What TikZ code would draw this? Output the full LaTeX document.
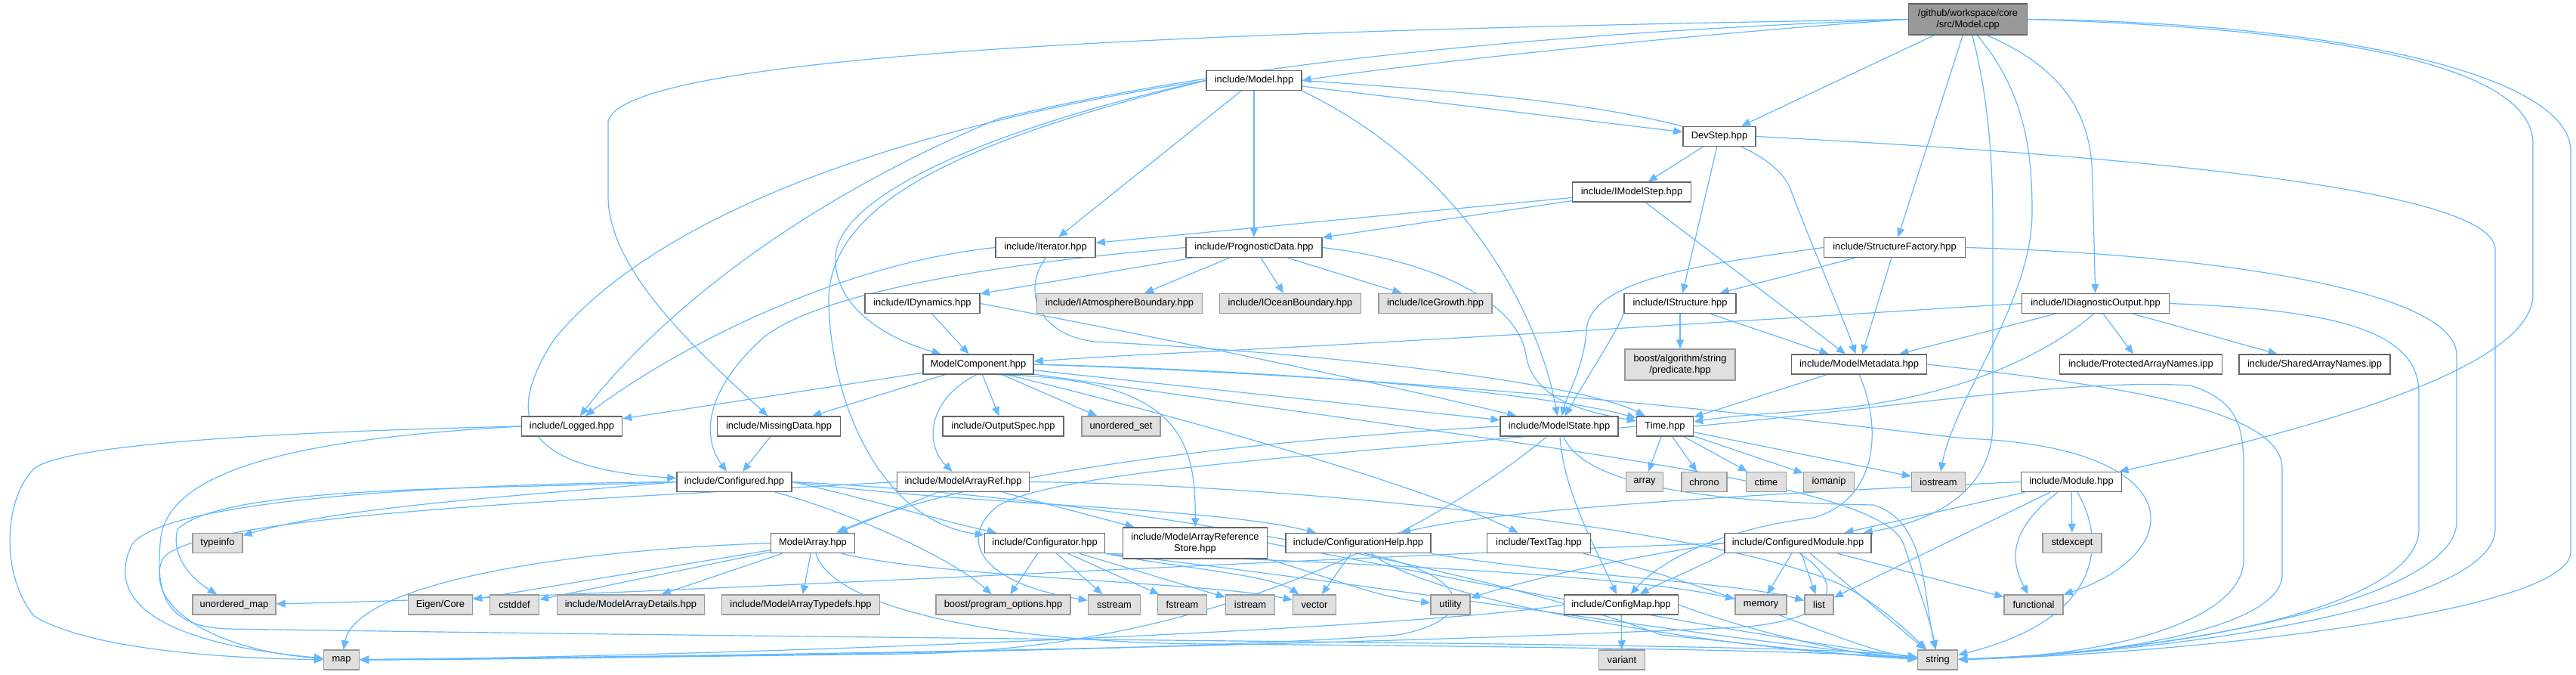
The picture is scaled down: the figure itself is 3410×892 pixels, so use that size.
\documentclass[tikz,border=0pt]{standalone}
\usepackage{fontspec}
\setmainfont{Liberation Sans}
\usetikzlibrary{arrows.meta, backgrounds}

\definecolor{edgeblue}{HTML}{63B8FF}
\definecolor{incline}{HTML}{666666}
\definecolor{extline}{HTML}{999999}
\definecolor{extfill}{HTML}{E0E0E0}
\definecolor{rootfill}{HTML}{999999}

\begin{document}
\begin{tikzpicture}[
    x=1pt, y=1pt,
    font=\fontsize{12.85}{14.5}\selectfont,
    inc/.style={rectangle, draw=incline, fill=white, line width=1.5pt, minimum height=26pt, inner sep=0pt, align=center},
    ext/.style={inc, draw=extline, fill=extfill},
    rootfile/.style={inc, fill=rootfill, minimum height=41pt},
    dep/.style={draw=edgeblue, line width=1.2pt, -{Triangle[length=12pt, width=10pt]}}
]
    \useasboundingbox (0,0) rectangle (3410,-892);

    % =========================================================
    % FILES
    % =========================================================
    \node[rootfile, minimum width=157pt] (root) at (2605,-25.5) {/github/workspace/core\\/src/Model.cpp};

    \node[inc, minimum width=126pt] (model) at (1660,-106.5) {include/Model.hpp};
    \node[inc, minimum width=96pt] (devstep) at (2276,-180.5) {DevStep.hpp};
    \node[inc, minimum width=157pt] (imstep) at (2160,-254) {include/IModelStep.hpp};

    \node[inc, minimum width=132pt] (iter) at (1384,-327.5) {include/Iterator.hpp};
    \node[inc, minimum width=180pt] (progdata) at (1660,-327.5) {include/PrognosticData.hpp};
    \node[inc, minimum width=187pt] (sfac) at (2508,-327.5) {include/StructureFactory.hpp};

    \node[inc, minimum width=152pt] (idyn) at (1221,-401.5) {include/IDynamics.hpp};
    \node[ext, minimum width=219pt] (iab) at (1482,-401.5) {include/IAtmosphereBoundary.hpp};
    \node[ext, minimum width=187pt] (iob) at (1708,-401.5) {include/IOceanBoundary.hpp};
    \node[ext, minimum width=150pt] (igrowth) at (1900,-401.5) {include/IceGrowth.hpp};
    \node[inc, minimum width=148pt] (istruct) at (2224,-401.5) {include/IStructure.hpp};
    \node[inc, minimum width=195pt] (ido) at (2774,-401.5) {include/IDiagnosticOutput.hpp};

    \node[inc, minimum width=146pt] (mcomp) at (1295,-482) {ModelComponent.hpp};
    \node[ext, minimum width=146pt, minimum height=41pt] (pred) at (2224,-482.5) {boost/algorithm/string\\/predicate.hpp};
    \node[inc, minimum width=179pt] (mmeta) at (2461,-482) {include/ModelMetadata.hpp};
    \node[inc, minimum width=215pt] (pan) at (2834,-482) {include/ProtectedArrayNames.ipp};
    \node[inc, minimum width=200pt] (san) at (3064,-482) {include/SharedArrayNames.ipp};

    \node[inc, minimum width=133pt] (logged) at (757,-564) {include/Logged.hpp};
    \node[inc, minimum width=163pt] (missing) at (1031,-564) {include/MissingData.hpp};
    \node[inc, minimum width=160pt] (ospec) at (1328,-564) {include/OutputSpec.hpp};
    \node[ext, minimum width=104pt] (uset) at (1484,-564) {unordered\_set};
    \node[inc, minimum width=156pt] (mstate) at (2064,-564) {include/ModelState.hpp};
    \node[inc, minimum width=75pt] (time) at (2204,-564) {Time.hpp};

    \node[inc, minimum width=152pt] (configured) at (972,-637.5) {include/Configured.hpp};
    \node[inc, minimum width=175pt] (mar) at (1275,-637.5) {include/ModelArrayRef.hpp};
    \node[ext, minimum width=49pt] (arr) at (2177,-637.5) {array};
    \node[ext, minimum width=60pt] (chr) at (2256,-637.5) {chrono};
    \node[ext, minimum width=53pt] (ctime) at (2338,-637.5) {ctime};
    \node[ext, minimum width=67pt] (iomanip) at (2421,-637.5) {iomanip};
    \node[ext, minimum width=71pt] (iostream) at (2566,-637.5) {iostream};
    \node[inc, minimum width=133pt] (module) at (2742,-637.5) {include/Module.hpp};

    \node[ext, minimum width=66pt] (typeinfo) at (288,-718.5) {typeinfo};
    \node[inc, minimum width=111pt] (ma) at (1076,-718.5) {ModelArray.hpp};
    \node[inc, minimum width=159pt] (configurator) at (1383,-718.5) {include/Configurator.hpp};
    \node[inc, minimum width=191pt, minimum height=41pt] (mars) at (1582,-718.5) {include/ModelArrayReference\\Store.hpp};
    \node[inc, minimum width=192pt] (ch) at (1798,-718.5) {include/ConfigurationHelp.hpp};
    \node[inc, minimum width=137pt] (ttag) at (2037,-718.5) {include/TextTag.hpp};
    \node[inc, minimum width=194pt] (cmod) at (2380,-718.5) {include/ConfiguredModule.hpp};
    \node[ext, minimum width=78pt] (stdexc) at (2743,-718.5) {stdexcept};

    \node[ext, minimum width=110pt] (umap) at (310,-800) {unordered\_map};
    \node[ext, minimum width=85pt] (eig) at (583,-800) {Eigen/Core};
    \node[ext, minimum width=65pt] (cstd) at (681,-800) {cstddef};
    \node[ext, minimum width=195pt] (mad) at (835,-800) {include/ModelArrayDetails.hpp};
    \node[ext, minimum width=209pt] (mat) at (1060,-800) {include/ModelArrayTypedefs.hpp};
    \node[ext, minimum width=178pt] (bpo) at (1328,-800) {boost/program\_options.hpp};
    \node[ext, minimum width=69pt] (sst) at (1475,-800) {sstream};
    \node[ext, minimum width=65pt] (fst) at (1565,-800) {fstream};
    \node[ext, minimum width=65pt] (ist) at (1655,-800) {istream};
    \node[ext, minimum width=57pt] (vec) at (1740,-800) {vector};
    \node[ext, minimum width=52pt] (util) at (1920,-800) {utility};
    \node[inc, minimum width=151pt] (cmap) at (2146,-800) {include/ConfigMap.hpp};
    \node[ext, minimum width=68pt] (mem) at (2331,-800) {memory};
    \node[ext, minimum width=38pt] (list) at (2408,-800) {list};
    \node[ext, minimum width=78pt] (func) at (2692,-800) {functional};

    \node[ext, minimum width=47pt] (map) at (452,-873) {map};
    \node[ext, minimum width=61pt] (var) at (2147,-873) {variant};
    \node[ext, minimum width=53pt] (str) at (2565,-873) {string};

    % =========================================================
    % INCLUDES
    % =========================================================
    \begin{scope}[on background layer]

    % short, direct includes
    \foreach \src/\dst in {root/devstep, root/sfac, model/devstep, model/iter, model/progdata,
        devstep/imstep, devstep/istruct, imstep/iter, imstep/progdata, imstep/mmeta,
        progdata/idyn, progdata/iab, progdata/iob, progdata/igrowth, sfac/istruct, sfac/mmeta,
        idyn/mcomp, istruct/pred, istruct/mmeta, ido/mmeta, ido/pan, ido/san, mmeta/time,
        mcomp/logged, mcomp/missing, mcomp/ospec, mcomp/uset, mcomp/mstate, missing/configured,
        time/arr, time/chr, time/ctime, time/iomanip, time/iostream, mar/ma, mar/mars,
        ma/eig, ma/cstd, ma/mad, ma/mat, configurator/bpo, configurator/sst, configurator/fst,
        configurator/ist, ch/vec, cmap/var, cmod/list, cmod/func, cmod/str, cmod/mem,
        module/cmod, module/list, module/stdexc} {
        \draw[dep] (\src) -- (\dst);
    }

    % Model.cpp
    \draw[dep] (root.west) .. controls (2300,-40) and (1900,-80) .. (model.east);
    \draw[dep] (root.-40) .. controls (2730,-90) and (2770,-150) .. (2770,-240) -- (ido);
    \draw[dep] (root.west) .. controls (1600,-40) and (830,-70) .. (805,-160) -- (805,-260) .. controls (805,-360) and (930,-470) .. (missing);
    \draw[dep] (root.west) .. controls (2000,-45) and (1600,-90) .. (1322,-157) .. controls (1050,-270) and (870,-420) .. (logged);
    \draw[dep] (root.-75) .. controls (2630,-120) and (2638,-200) .. (2638,-300) -- (2638,-560) .. controls (2638,-650) and (2560,-690) .. (cmod);
    \draw[dep] (root.-60) .. controls (2680,-120) and (2690,-200) .. (2690,-280) .. controls (2690,-400) and (2590,-520) .. (iostream);
    \draw[dep] (root.east) .. controls (3000,-35) and (3353,-70) .. (3353,-190) -- (3353,-390) .. controls (3353,-480) and (3100,-560) .. (module);
    \draw[dep] (root.east) .. controls (3100,-30) and (3403,-100) .. (3403,-200) -- (3403,-730) .. controls (3403,-810) and (2900,-865) .. (str);

    % Model.hpp
    \draw[dep] (model.south east) .. controls (1950,-230) and (2040,-430) .. (mstate);
    \draw[dep] (model.east) .. controls (2000,-125) and (2330,-150) .. (2370,-250) .. controls (2400,-330) and (2440,-420) .. (mmeta);
    \draw[dep] (model.west) .. controls (1300,-150) and (900,-250) .. (735,-447) .. controls (660,-560) and (700,-620) .. (configured);
    \draw[dep] (model.west) .. controls (1350,-160) and (1110,-250) .. (1106,-340) .. controls (1104,-410) and (1180,-450) .. (mcomp);
    \draw[dep] (model.west) .. controls (1300,-180) and (1095,-260) .. (1097,-400) .. controls (1100,-540) and (1170,-690) .. (configurator);

    % DevStep, Iterator, PrognosticData
    \draw[dep] (devstep.east) .. controls (2700,-200) and (3303,-240) .. (3303,-330) -- (3303,-700) .. controls (3303,-800) and (2900,-862) .. (str);
    \draw[dep] (iter.west) .. controls (1100,-350) and (880,-470) .. (logged);
    \draw[dep] (iter.south) .. controls (1350,-390) and (1380,-445) .. (1450,-452) .. controls (1800,-470) and (2100,-510) .. (time);
    \draw[dep] (progdata.west) .. controls (1300,-350) and (1080,-390) .. (1010,-447) .. controls (930,-520) and (930,-580) .. (configured);
    \draw[dep] (progdata.east) .. controls (1900,-345) and (2010,-400) .. (2020,-470) .. controls (2030,-530) and (2100,-545) .. (time);

    % StructureFactory, IDynamics, IStructure
    \draw[dep] (sfac.west) .. controls (2250,-350) and (2100,-370) .. (2100,-440) .. controls (2095,-490) and (2075,-520) .. (mstate);
    \draw[dep] (sfac.east) .. controls (2900,-335) and (3252,-380) .. (3252,-470) -- (3252,-690) .. controls (3252,-790) and (2900,-862) .. (str);
    \draw[dep] (idyn.east) .. controls (1500,-440) and (1800,-500) .. (mstate);
    \draw[dep] (istruct.south west) .. controls (2140,-440) and (2100,-500) .. (mstate);

    % IDiagnosticOutput, ModelMetadata
    \draw[dep] (ido.west) .. controls (2300,-425) and (1900,-450) .. (1600,-465) .. controls (1450,-472) and (1400,-476) .. (mcomp);
    \draw[dep] (ido.-100) .. controls (2720,-460) and (2600,-530) .. (2400,-543) .. controls (2320,-548) and (2280,-552) .. (time);
    \draw[dep] (ido.east) .. controls (3100,-410) and (3202,-440) .. (3202,-520) -- (3202,-700) .. controls (3202,-800) and (2900,-862) .. (str);
    \draw[dep] (mmeta.east) .. controls (2800,-510) and (3021,-540) .. (3021,-620) -- (3021,-760) .. controls (3021,-830) and (2800,-868) .. (str);
    \draw[dep] (mmeta.south) .. controls (2490,-560) and (2490,-660) .. (2400,-685) .. controls (2280,-700) and (2200,-740) .. (cmap);

    % ModelComponent
    \draw[dep] (mcomp.-100) .. controls (1225,-530) and (1225,-590) .. (mar);
    \draw[dep] (mcomp.-30) .. controls (1560,-500) and (1583,-580) .. (mars);
    \draw[dep] (mcomp.east) .. controls (1700,-490) and (2050,-520) .. (time);
    \draw[dep] (mcomp.-20) .. controls (1600,-560) and (1900,-650) .. (ttag);
    \draw[dep] (mcomp.east) .. controls (1900,-500) and (2300,-545) .. (2600,-580) .. controls (2900,-590) and (2900,-730) .. (func);
    \draw[dep] (mcomp.-10) .. controls (2100,-600) and (2490,-640) .. (2520,-720) .. controls (2540,-780) and (2555,-820) .. (str);

    % Logged
    \draw[dep] (logged.west) .. controls (200,-575) and (70,-600) .. (45,-620) .. controls (5,-660) and (0,-760) .. (45,-815) .. controls (120,-860) and (300,-871) .. (map);
    \draw[dep] (logged.west) .. controls (400,-580) and (215,-620) .. (212,-720) .. controls (205,-800) and (230,-828) .. (300,-832) .. controls (1500,-850) and (2400,-850) .. (str);

    % ModelState, Time
    \draw[dep] (mstate.west) .. controls (1700,-580) and (1300,-620) .. (ma);
    \draw[dep] (mstate) .. controls (2070,-650) and (2110,-720) .. (cmap);
    \draw[dep] (mstate) .. controls (1900,-700) and (1600,-860) .. (1200,-865) .. controls (800,-870) and (600,-873) .. (map);
    \draw[dep] (mstate) .. controls (2100,-650) and (2300,-665) .. (2480,-668) .. controls (2550,-690) and (2545,-780) .. (str);
    \draw[dep] (time.west) .. controls (1800,-600) and (1400,-620) .. (1320,-670) .. controls (1270,-710) and (1290,-770) .. (sst);
    \draw[dep] (time.east) .. controls (2500,-540) and (2750,-500) .. (2900,-510) .. controls (2960,-530) and (2970,-560) .. (2970,-620) -- (2970,-740) .. controls (2970,-820) and (2800,-868) .. (str);

    % Configured
    \draw[dep] (configured.west) .. controls (700,-655) and (450,-670) .. (typeinfo);
    \draw[dep] (configured.west) .. controls (600,-640) and (220,-660) .. (175,-720) .. controls (140,-790) and (200,-850) .. (map);
    \draw[dep] (configured.west) .. controls (650,-648) and (300,-640) .. (235,-700) .. controls (225,-740) and (260,-770) .. (umap);
    \draw[dep] (configured) .. controls (1100,-670) and (1250,-730) .. (bpo);
    \draw[dep] (configured.east) .. controls (1150,-660) and (1250,-690) .. (configurator);
    \draw[dep] (configured.east) .. controls (1300,-670) and (1600,-670) .. (ch);
    \draw[dep] (configured.east) .. controls (1500,-660) and (1950,-750) .. (2200,-840) .. controls (2350,-855) and (2450,-868) .. (str);

    % ModelArrayRef, ModelArray
    \draw[dep] (mar.west) .. controls (800,-660) and (250,-680) .. (215,-740) .. controls (190,-800) and (280,-860) .. (map);
    \draw[dep] (mar.east) .. controls (1700,-640) and (2300,-700) .. (2450,-780) .. controls (2500,-810) and (2530,-840) .. (str);
    \draw[dep] (ma.west) .. controls (700,-730) and (470,-780) .. (map);
    \draw[dep] (ma) .. controls (1100,-800) and (1300,-850) .. (1600,-852) .. controls (2000,-855) and (2400,-860) .. (str);
    \draw[dep] (ma.-20) .. controls (1250,-765) and (1600,-770) .. (vec);

    % Configurator, ModelArrayReferenceStore, ConfigurationHelp, TextTag
    \draw[dep] (configurator.south east) .. controls (1550,-750) and (1680,-760) .. (vec);
    \draw[dep] (configurator.south east) .. controls (1800,-745) and (2150,-760) .. (mem);
    \draw[dep] (configurator.south east) .. controls (1800,-770) and (2300,-850) .. (str);
    \draw[dep] (mars.south east) .. controls (1750,-760) and (1820,-790) .. (util);
    \draw[dep] (mars.east) .. controls (1900,-760) and (2300,-840) .. (str);
    \draw[dep] (ch.south east) .. controls (2050,-760) and (2300,-770) .. (list);
    \draw[dep] (ch) .. controls (1900,-800) and (2300,-860) .. (str);
    \draw[dep] (ch.-60) .. controls (1950,-760) and (1960,-820) .. (1850,-840) .. controls (1500,-866) and (700,-870) .. (map);
    \draw[dep] (ttag) .. controls (2300,-780) and (2450,-860) .. (str);

    % ConfigMap, ConfiguredModule, Module
    \draw[dep] (cmap.west) .. controls (1900,-830) and (1000,-868) .. (map);
    \draw[dep] (cmap.east) .. controls (2300,-830) and (2450,-868) .. (str);
    \draw[dep] (cmod.south west) .. controls (2250,-750) and (2200,-770) .. (cmap);
    \draw[dep] (cmod.west) .. controls (2100,-745) and (1980,-780) .. (util);
    \draw[dep] (cmod.west) .. controls (1800,-735) and (800,-790) .. (umap);
    \draw[dep] (cmod.-80) .. controls (2440,-770) and (2440,-820) .. (2300,-830) .. controls (1600,-862) and (700,-870) .. (map);
    \draw[dep] (module) .. controls (2660,-700) and (2660,-740) .. (func);
    \draw[dep] (module) .. controls (2790,-720) and (2780,-820) .. (str);
    \draw[dep] (module.west) .. controls (2400,-650) and (2000,-670) .. (ch);

    \end{scope}

\end{tikzpicture}
\end{document}
